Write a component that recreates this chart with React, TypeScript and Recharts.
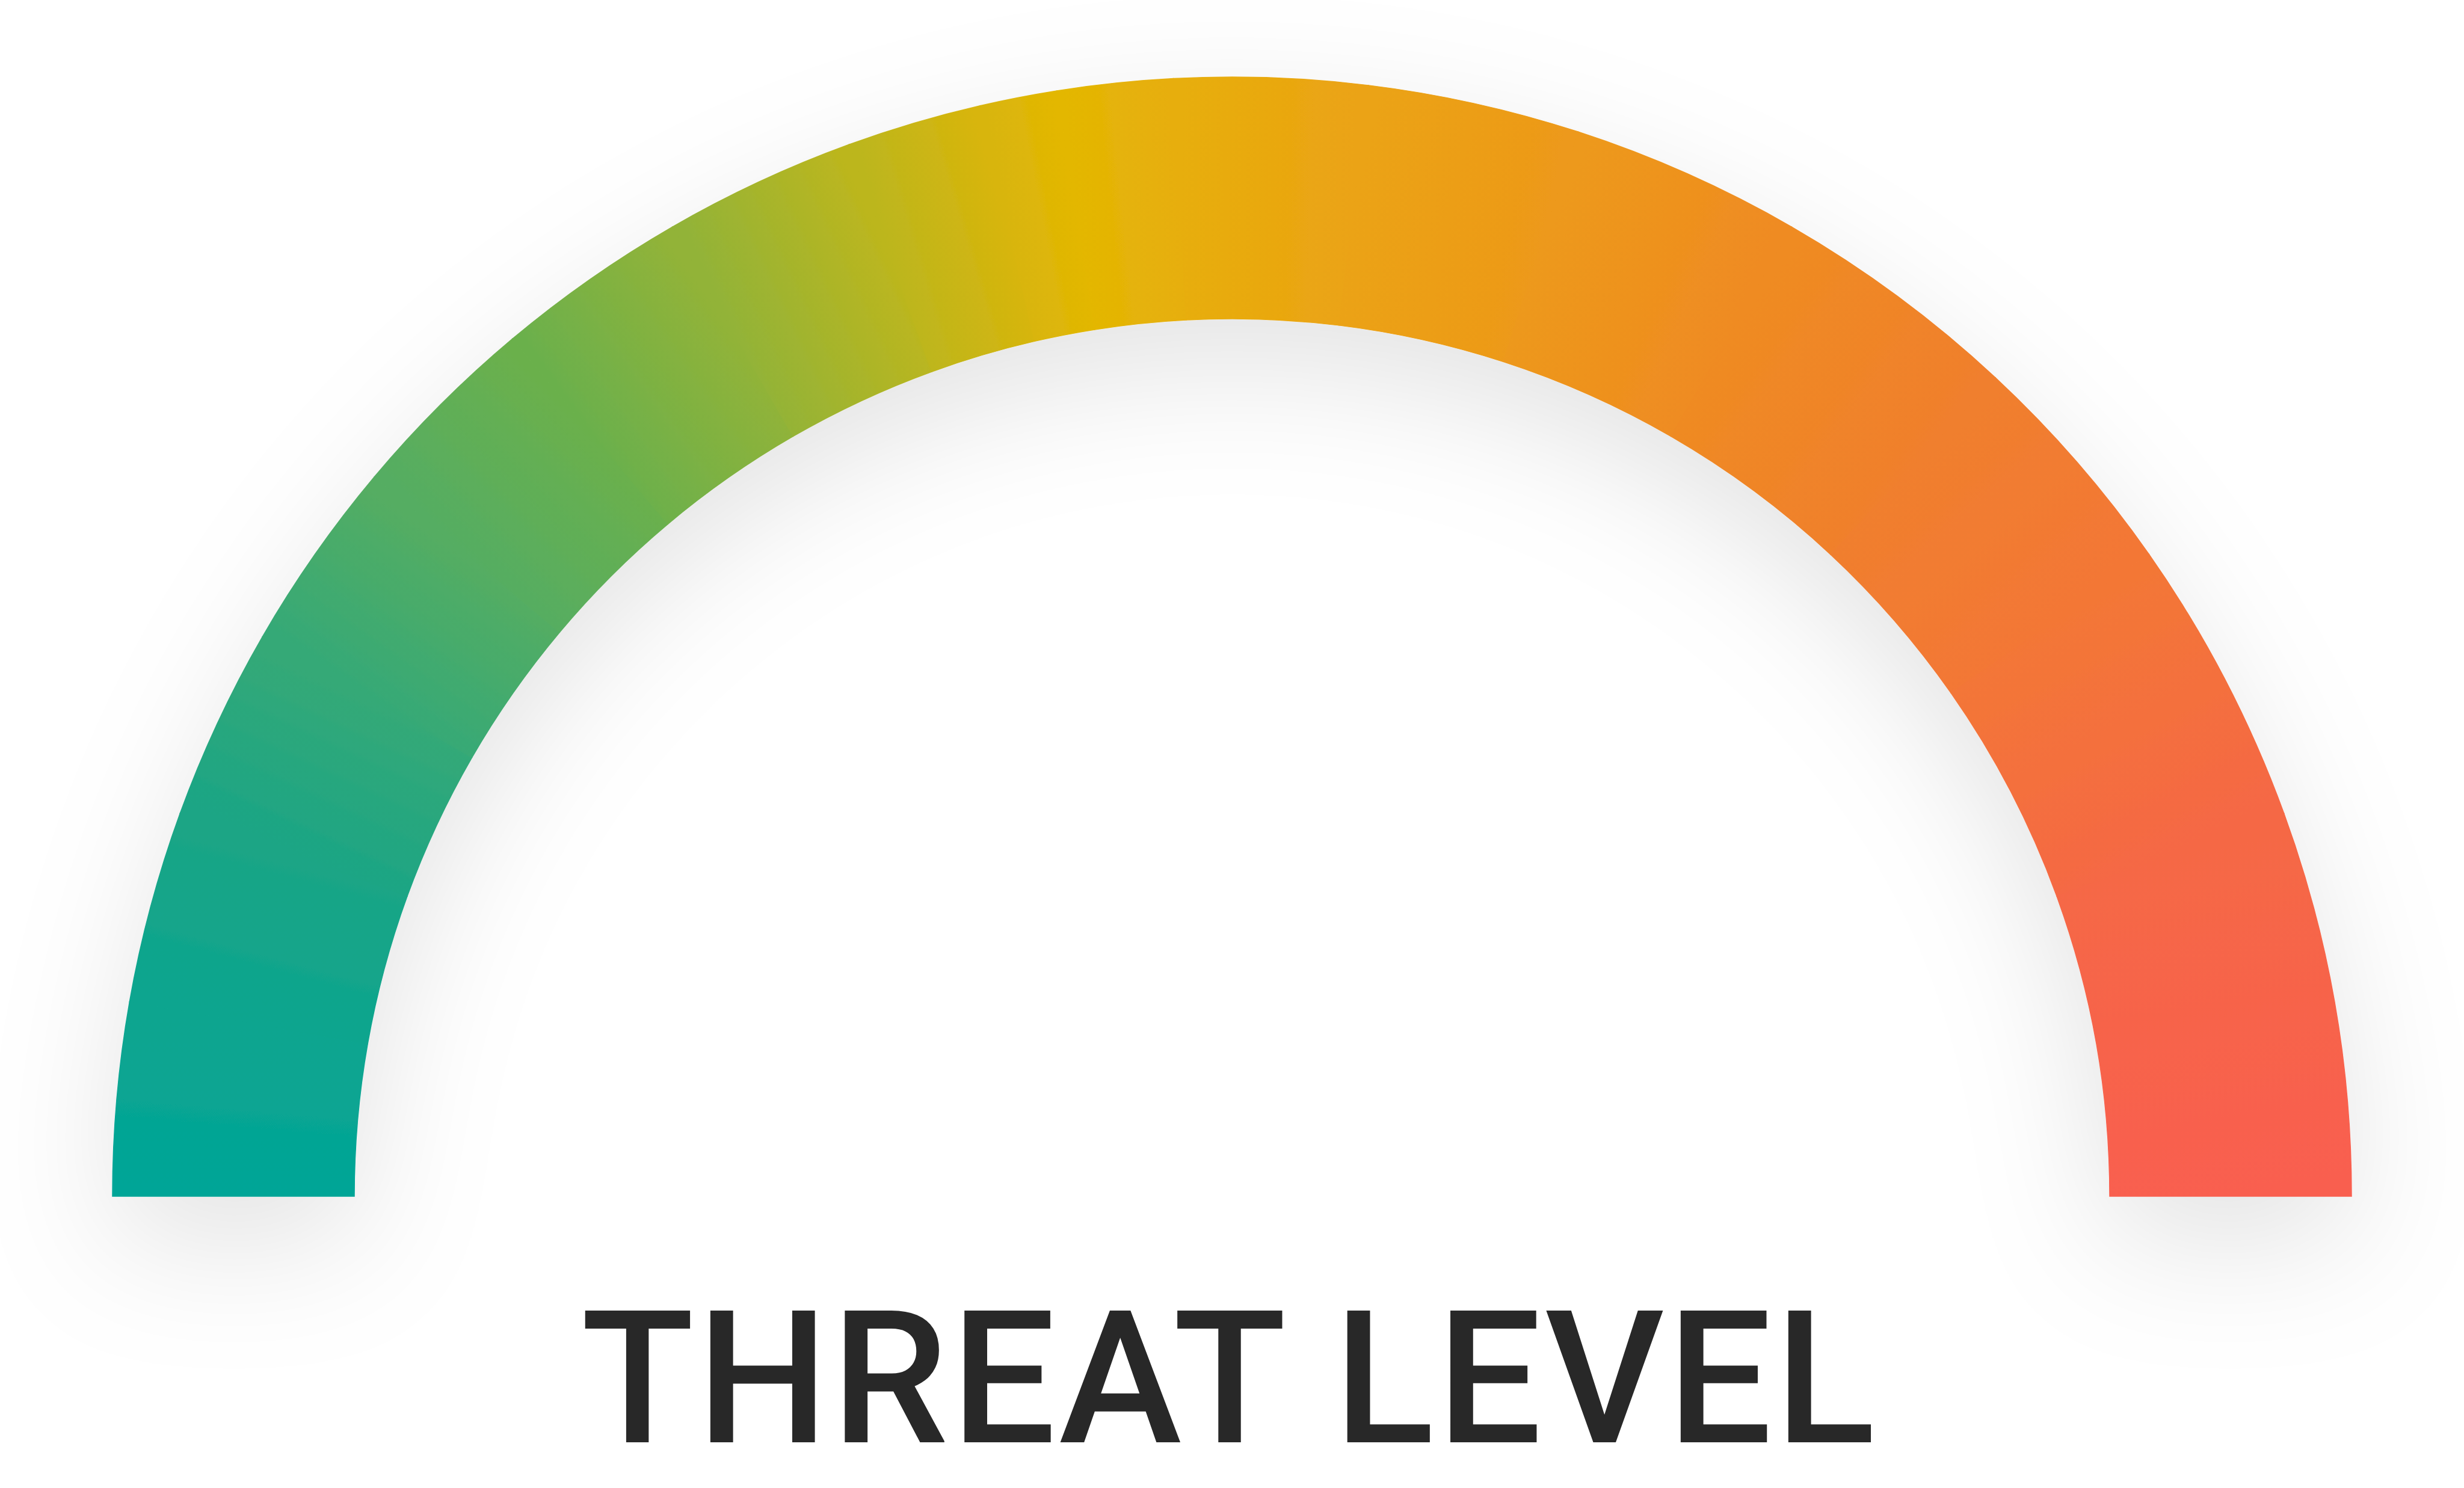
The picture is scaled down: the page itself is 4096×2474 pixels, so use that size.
import { PieChart, Pie, Cell } from 'recharts';

// colour stops along the gauge, angle measured from the left foot (0) over the top to the right foot (180)
const stopAngles = [0, 10, 20, 30, 40, 50, 60, 70, 77, 81, 87, 97, 108, 120, 133, 145, 160, 180];
const stopColors = [
  '#02a597', '#0ca58f', '#1ba585', '#35a977', '#55ad62', '#6bb04c', '#92b338', '#bcb61e', '#d8b50b',
  '#e3b703', '#e7ae0c', '#eba314', '#ed991a', '#ef8b22', '#f07f2d', '#f37736', '#f56845', '#f95f50',
];
const title = 'THREAT LEVEL';

const W = 4096;
const H = 2474;
const CX = 2048;
const CY = 1989;
const R_IN = 1459;
const R_OUT = 1861;
const R_MID = (R_IN + R_OUT) / 2;

const segments = stopAngles.slice(1).map((a, i) => ({ name: `band${i}`, value: a - stopAngles[i] }));

const arcPoint = (deg: number) => {
  const t = (deg * Math.PI) / 180;
  return { x: CX - R_MID * Math.cos(t), y: CY - R_MID * Math.sin(t) };
};

export default function App() {
  return (
    <div style={{ width: W, height: H, background: '#fff' }}>
      <style>{`body{margin:0;background:#fff}.recharts-pie{filter:url(#gaugeShadow)}`}</style>
      <PieChart width={W} height={H} margin={{ top: 0, right: 0, bottom: 0, left: 0 }}>
        <defs>
          <filter id="gaugeShadow" x="-20%" y="-30%" width="140%" height="170%">
            <feGaussianBlur in="SourceAlpha" stdDeviation="110" />
            <feOffset dx="0" dy="75" result="blur" />
            <feFlood floodColor="#000" floodOpacity="0.11" />
            <feComposite in2="blur" operator="in" />
            <feMerge>
              <feMergeNode />
              <feMergeNode in="SourceGraphic" />
            </feMerge>
          </filter>
          {segments.map((s, i) => {
            const p0 = arcPoint(stopAngles[i]);
            const p1 = arcPoint(stopAngles[i + 1]);
            return (
              <linearGradient key={s.name} id={`g${i}`} gradientUnits="userSpaceOnUse" x1={p0.x} y1={p0.y} x2={p1.x} y2={p1.y}>
                <stop offset="0" stopColor={stopColors[i]} />
                <stop offset="1" stopColor={stopColors[i + 1]} />
              </linearGradient>
            );
          })}
        </defs>
        <Pie
          data={segments}
          dataKey="value"
          nameKey="name"
          cx={CX}
          cy={CY}
          innerRadius={R_IN}
          outerRadius={R_OUT}
          startAngle={180}
          endAngle={0}
          isAnimationActive={false}
          label={false}
          labelLine={false}
        >
          {segments.map((s, i) => (
            <Cell key={s.name} fill={`url(#g${i})`} stroke={`url(#g${i})`} strokeWidth={1.5} />
          ))}
        </Pie>
        <text
          x={2044}
          y={2398}
          textAnchor="middle"
          fontFamily="Roboto, 'Noto Sans', sans-serif"
          fontWeight={500}
          fontSize={308}
          letterSpacing={5}
          fill="#282828"
        >
          {title}
        </text>
      </PieChart>
    </div>
  );
}
